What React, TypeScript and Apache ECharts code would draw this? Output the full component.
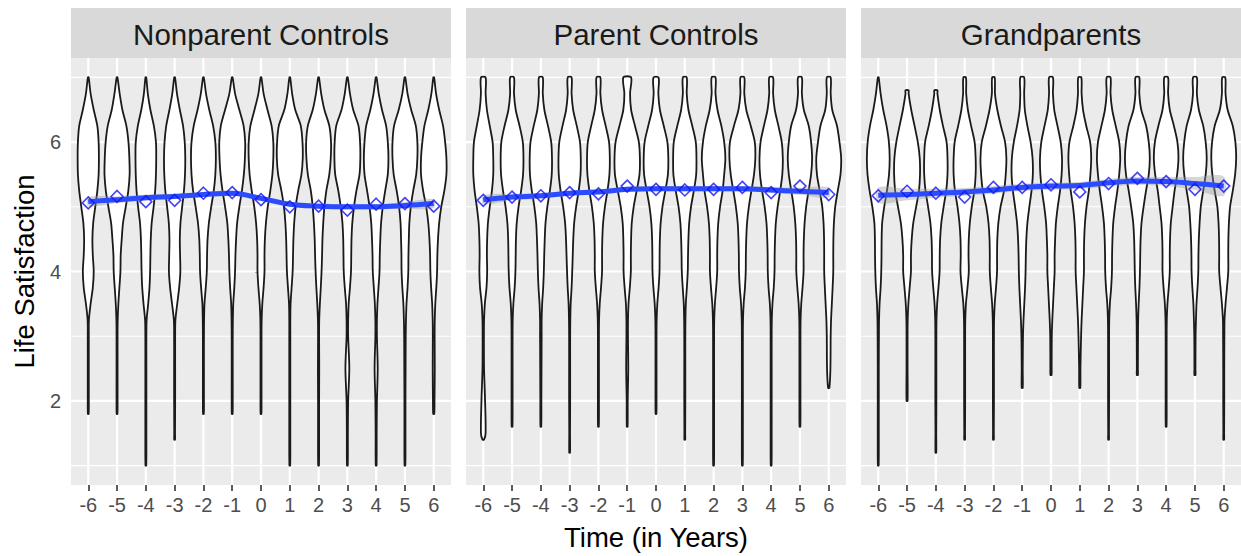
import React, { useEffect, useRef } from "react";
import * as echarts from "echarts";

// ---------- data ----------
const PANELS = ["Nonparent Controls", "Parent Controls", "Grandparents"];
const TIMES = [-6, -5, -4, -3, -2, -1, 0, 1, 2, 3, 4, 5, 6];
const Y_TICKS = [2, 4, 6];
const Y_MINOR = [1, 3, 5, 7];
// density levels (life satisfaction values) at which the violin half-widths are read
const LEVELS = [7, 6.75, 6.5, 6.25, 6, 5.75, 5.5, 5.25, 5, 4.75, 4.5, 4.25, 4, 3.75, 3.5, 3.25, 3, 2.5, 2, 1.5, 1];

// relative half-widths (1 = widest violin) per time point, at LEVELS
const NONPARENT_WIDTHS = [
  [0.03, 0.18, 0.42, 0.7, 0.8, 0.82, 0.8, 0.7, 0.54, 0.38, 0.32, 0.35, 0.42, 0.35, 0.18, 0.05, 0.04, 0.04, 0.04, 0.03, 0.03],
  [0.03, 0.2, 0.41, 0.72, 0.88, 0.95, 0.97, 0.87, 0.67, 0.46, 0.36, 0.28, 0.26, 0.18, 0.1, 0.05, 0.04, 0.04, 0.04, 0.03, 0.03],
  [0.03, 0.15, 0.35, 0.62, 0.78, 0.8, 0.78, 0.72, 0.6, 0.45, 0.38, 0.35, 0.33, 0.28, 0.18, 0.06, 0.04, 0.04, 0.04, 0.04, 0.03],
  [0.03, 0.18, 0.4, 0.65, 0.78, 0.82, 0.8, 0.72, 0.58, 0.45, 0.4, 0.42, 0.44, 0.35, 0.2, 0.06, 0.04, 0.04, 0.04, 0.03, 0.03],
  [0.03, 0.2, 0.45, 0.75, 0.92, 0.96, 0.92, 0.8, 0.6, 0.42, 0.32, 0.28, 0.26, 0.18, 0.08, 0.05, 0.04, 0.04, 0.04, 0.03, 0.03],
  [0.03, 0.22, 0.55, 0.88, 1.0, 0.98, 0.9, 0.75, 0.55, 0.38, 0.3, 0.25, 0.22, 0.16, 0.08, 0.05, 0.04, 0.04, 0.04, 0.03, 0.03],
  [0.03, 0.2, 0.5, 0.82, 0.95, 0.95, 0.88, 0.72, 0.52, 0.38, 0.3, 0.27, 0.27, 0.2, 0.1, 0.05, 0.04, 0.04, 0.04, 0.03, 0.03],
  [0.03, 0.18, 0.42, 0.85, 0.98, 1.0, 0.9, 0.65, 0.45, 0.34, 0.28, 0.25, 0.22, 0.14, 0.06, 0.04, 0.04, 0.04, 0.04, 0.04, 0.03],
  [0.03, 0.2, 0.45, 0.83, 0.96, 0.94, 0.83, 0.6, 0.45, 0.36, 0.3, 0.27, 0.23, 0.17, 0.1, 0.05, 0.04, 0.05, 0.04, 0.04, 0.03],
  [0.03, 0.2, 0.45, 0.86, 0.98, 1.0, 0.94, 0.7, 0.51, 0.38, 0.32, 0.3, 0.28, 0.2, 0.1, 0.06, 0.06, 0.15, 0.06, 0.04, 0.03],
  [0.03, 0.2, 0.45, 0.77, 0.9, 0.95, 0.9, 0.7, 0.51, 0.38, 0.32, 0.28, 0.26, 0.18, 0.1, 0.06, 0.06, 0.12, 0.06, 0.04, 0.03],
  [0.03, 0.2, 0.48, 0.84, 0.96, 0.96, 0.87, 0.64, 0.45, 0.34, 0.3, 0.27, 0.26, 0.2, 0.12, 0.08, 0.06, 0.05, 0.04, 0.04, 0.03],
  [0.03, 0.18, 0.42, 0.72, 0.88, 0.98, 0.98, 0.82, 0.58, 0.42, 0.33, 0.28, 0.26, 0.2, 0.12, 0.08, 0.07, 0.08, 0.06, 0.04, 0.03],
];
const NONPARENT_MIN = [1.8, 1.8, 1.0, 1.4, 1.8, 1.8, 1.8, 1.0, 1.0, 1.0, 1.0, 1.0, 1.8];
const NONPARENT_MAX = [7, 7, 7, 7, 7, 7, 7, 7, 7, 7, 7, 7, 7];

const PARENT_WIDTHS = [
  [0.18, 0.18, 0.28, 0.5, 0.72, 0.77, 0.77, 0.67, 0.5, 0.36, 0.3, 0.28, 0.3, 0.25, 0.12, 0.06, 0.05, 0.06, 0.14, 0.18, 0.06],
  [0.15, 0.15, 0.28, 0.58, 0.83, 0.88, 0.85, 0.7, 0.5, 0.36, 0.3, 0.28, 0.26, 0.2, 0.1, 0.05, 0.04, 0.04, 0.04, 0.03, 0.03],
  [0.15, 0.15, 0.27, 0.55, 0.8, 0.86, 0.84, 0.7, 0.5, 0.36, 0.3, 0.26, 0.23, 0.18, 0.1, 0.06, 0.06, 0.05, 0.04, 0.03, 0.03],
  [0.15, 0.15, 0.27, 0.55, 0.8, 0.86, 0.84, 0.7, 0.5, 0.35, 0.28, 0.24, 0.2, 0.15, 0.08, 0.05, 0.04, 0.04, 0.04, 0.03, 0.03],
  [0.15, 0.15, 0.28, 0.56, 0.82, 0.88, 0.85, 0.7, 0.5, 0.36, 0.3, 0.28, 0.28, 0.2, 0.1, 0.05, 0.04, 0.04, 0.04, 0.03, 0.03],
  [0.3, 0.22, 0.3, 0.6, 0.9, 0.98, 0.95, 0.73, 0.5, 0.35, 0.3, 0.28, 0.28, 0.2, 0.1, 0.06, 0.06, 0.08, 0.04, 0.03, 0.03],
  [0.2, 0.18, 0.3, 0.6, 0.88, 0.95, 0.92, 0.72, 0.5, 0.36, 0.3, 0.28, 0.27, 0.2, 0.1, 0.05, 0.04, 0.04, 0.04, 0.03, 0.03],
  [0.15, 0.15, 0.28, 0.58, 0.85, 0.9, 0.88, 0.7, 0.48, 0.34, 0.28, 0.25, 0.23, 0.16, 0.08, 0.05, 0.04, 0.04, 0.04, 0.03, 0.03],
  [0.15, 0.15, 0.3, 0.6, 0.82, 0.91, 0.82, 0.7, 0.5, 0.36, 0.3, 0.28, 0.28, 0.2, 0.1, 0.05, 0.04, 0.04, 0.04, 0.04, 0.03],
  [0.15, 0.15, 0.3, 0.65, 0.96, 1.0, 0.9, 0.7, 0.5, 0.36, 0.3, 0.27, 0.26, 0.2, 0.1, 0.05, 0.04, 0.04, 0.04, 0.04, 0.03],
  [0.15, 0.15, 0.28, 0.56, 0.82, 0.9, 0.86, 0.7, 0.5, 0.36, 0.3, 0.27, 0.26, 0.2, 0.1, 0.05, 0.04, 0.04, 0.04, 0.04, 0.03],
  [0.15, 0.15, 0.3, 0.68, 0.86, 0.94, 0.86, 0.67, 0.48, 0.36, 0.3, 0.28, 0.28, 0.2, 0.1, 0.05, 0.04, 0.04, 0.04, 0.03, 0.03],
  [0.15, 0.15, 0.27, 0.64, 0.83, 0.96, 0.91, 0.7, 0.5, 0.4, 0.36, 0.35, 0.35, 0.3, 0.24, 0.18, 0.15, 0.13, 0.05, 0.03, 0.03],
];
const PARENT_MIN = [1.4, 1.6, 1.6, 1.2, 1.6, 1.6, 1.8, 1.4, 1.0, 1.0, 1.0, 1.6, 2.2];
const PARENT_MAX = [7, 7, 7, 7, 7, 7, 7, 7, 7, 7, 7, 7, 7];

const GRAND_WIDTHS = [
  [0.03, 0.18, 0.38, 0.64, 0.82, 0.88, 0.83, 0.67, 0.46, 0.3, 0.26, 0.25, 0.23, 0.18, 0.1, 0.06, 0.05, 0.04, 0.04, 0.04, 0.03],
  [0.12, 0.12, 0.32, 0.58, 0.83, 0.98, 1.0, 0.92, 0.7, 0.48, 0.36, 0.3, 0.3, 0.2, 0.1, 0.05, 0.04, 0.04, 0.04, 0.03, 0.03],
  [0.12, 0.12, 0.3, 0.55, 0.83, 0.9, 0.9, 0.8, 0.6, 0.42, 0.33, 0.3, 0.29, 0.2, 0.1, 0.05, 0.04, 0.04, 0.04, 0.03, 0.03],
  [0.1, 0.12, 0.25, 0.5, 0.77, 0.85, 0.85, 0.75, 0.55, 0.4, 0.32, 0.3, 0.32, 0.22, 0.1, 0.05, 0.04, 0.04, 0.04, 0.03, 0.03],
  [0.1, 0.12, 0.3, 0.58, 0.9, 1.0, 0.95, 0.82, 0.55, 0.38, 0.3, 0.28, 0.28, 0.2, 0.1, 0.05, 0.04, 0.04, 0.04, 0.03, 0.03],
  [0.15, 0.15, 0.2, 0.4, 0.65, 0.8, 0.82, 0.72, 0.55, 0.4, 0.32, 0.28, 0.26, 0.22, 0.16, 0.1, 0.06, 0.04, 0.04, 0.03, 0.03],
  [0.15, 0.15, 0.25, 0.5, 0.75, 0.85, 0.82, 0.7, 0.52, 0.38, 0.32, 0.28, 0.28, 0.22, 0.16, 0.1, 0.06, 0.05, 0.04, 0.03, 0.03],
  [0.12, 0.14, 0.25, 0.5, 0.8, 0.88, 0.82, 0.7, 0.52, 0.4, 0.34, 0.32, 0.32, 0.26, 0.2, 0.14, 0.1, 0.05, 0.04, 0.03, 0.03],
  [0.15, 0.15, 0.28, 0.55, 0.82, 0.9, 0.82, 0.68, 0.5, 0.36, 0.3, 0.27, 0.26, 0.2, 0.1, 0.05, 0.04, 0.04, 0.04, 0.03, 0.03],
  [0.15, 0.15, 0.3, 0.68, 0.88, 0.96, 0.88, 0.67, 0.48, 0.32, 0.25, 0.22, 0.2, 0.16, 0.1, 0.06, 0.05, 0.04, 0.04, 0.03, 0.03],
  [0.15, 0.15, 0.28, 0.6, 0.87, 0.95, 0.85, 0.65, 0.5, 0.36, 0.3, 0.28, 0.28, 0.2, 0.1, 0.05, 0.04, 0.04, 0.04, 0.03, 0.03],
  [0.15, 0.15, 0.3, 0.64, 0.83, 0.91, 0.83, 0.64, 0.45, 0.36, 0.3, 0.27, 0.26, 0.2, 0.12, 0.08, 0.05, 0.04, 0.04, 0.03, 0.03],
  [0.12, 0.14, 0.3, 0.7, 0.9, 0.96, 0.88, 0.7, 0.49, 0.4, 0.36, 0.35, 0.35, 0.25, 0.14, 0.06, 0.05, 0.04, 0.04, 0.03, 0.03],
];
const GRAND_MIN = [1.0, 2.0, 1.2, 1.4, 1.4, 2.2, 2.4, 2.2, 1.4, 2.4, 1.6, 2.4, 1.4];
const GRAND_MAX = [7, 6.8, 6.8, 7, 7, 7, 7, 7, 7, 7, 7, 7, 7];

// yearly means (diamonds)
const NONPARENT_MEANS = [5.06, 5.16, 5.08, 5.1, 5.21, 5.22, 5.11, 5.0, 5.01, 4.95, 5.04, 5.05, 5.01];
const PARENT_MEANS = [5.1, 5.15, 5.17, 5.22, 5.2, 5.32, 5.27, 5.26, 5.27, 5.3, 5.22, 5.32, 5.19];
const GRAND_MEANS = [5.17, 5.24, 5.21, 5.15, 5.3, 5.3, 5.34, 5.23, 5.36, 5.44, 5.39, 5.27, 5.32];

// loess fit and its confidence half-width
const NONPARENT_SMOOTH = [5.08, 5.11, 5.14, 5.16, 5.19, 5.21, 5.13, 5.04, 5.01, 5.0, 5.0, 5.02, 5.05];
const PARENT_SMOOTH = [5.11, 5.15, 5.17, 5.21, 5.23, 5.27, 5.28, 5.28, 5.28, 5.28, 5.26, 5.24, 5.22];
const GRAND_SMOOTH = [5.18, 5.19, 5.21, 5.23, 5.26, 5.3, 5.32, 5.33, 5.37, 5.4, 5.39, 5.36, 5.32];
const NONPARENT_BAND = [0.07, 0.05, 0.045, 0.04, 0.04, 0.04, 0.04, 0.04, 0.04, 0.04, 0.04, 0.05, 0.07];
const PARENT_BAND = [0.07, 0.05, 0.045, 0.04, 0.04, 0.04, 0.04, 0.04, 0.04, 0.04, 0.045, 0.055, 0.08];
const GRAND_BAND = [0.12, 0.09, 0.07, 0.06, 0.06, 0.055, 0.055, 0.055, 0.06, 0.06, 0.07, 0.1, 0.15];

// ---------- layout / style ----------
const FONT = "'Liberation Sans', Arial, Helvetica, sans-serif";
const GRID_LEFTS = [71, 466, 861];
const GRID_TOP = 58;
const GRID_W = 380;
const GRID_H = 427;
const STRIP_TOP = 8;
const X_MIN = -6.6;
const X_MAX = 6.6;
const Y_MIN = 0.7;
const Y_MAX = 7.3;
const HALF = 0.45;

const PANEL_DATA = [
  { widths: NONPARENT_WIDTHS, mins: NONPARENT_MIN, maxs: NONPARENT_MAX, means: NONPARENT_MEANS, smooth: NONPARENT_SMOOTH, band: NONPARENT_BAND },
  { widths: PARENT_WIDTHS, mins: PARENT_MIN, maxs: PARENT_MAX, means: PARENT_MEANS, smooth: PARENT_SMOOTH, band: PARENT_BAND },
  { widths: GRAND_WIDTHS, mins: GRAND_MIN, maxs: GRAND_MAX, means: GRAND_MEANS, smooth: GRAND_SMOOTH, band: GRAND_BAND },
];

function buildOption() {
  const grid: any[] = [];
  const xAxis: any[] = [];
  const yAxis: any[] = [];
  const series: any[] = [];
  const graphic: any[] = [];

  PANEL_DATA.forEach((pd, i) => {
    grid.push({
      left: GRID_LEFTS[i],
      top: GRID_TOP,
      width: GRID_W,
      height: GRID_H,
      show: true,
      backgroundColor: "#EBEBEB",
      borderWidth: 0,
      containLabel: false,
    });
    xAxis.push({
      gridIndex: i,
      type: "value",
      min: X_MIN,
      max: X_MAX,
      axisLine: { show: false },
      axisTick: { show: true, customValues: TIMES, length: 6, lineStyle: { color: "#333333", width: 1.6 } },
      axisLabel: { show: true, customValues: TIMES, color: "#4D4D4D", fontSize: 20, fontFamily: FONT, margin: 10 },
      splitLine: { show: false },
    });
    yAxis.push({
      gridIndex: i,
      type: "value",
      min: Y_MIN,
      max: Y_MAX,
      axisLine: { show: false },
      axisTick: { show: i === 0, customValues: Y_TICKS, length: 6, lineStyle: { color: "#333333", width: 1.6 } },
      axisLabel: { show: i === 0, customValues: Y_TICKS, color: "#4D4D4D", fontSize: 20, fontFamily: FONT, margin: 10 },
      splitLine: { show: false },
    });

    // grid lines
    const gridItems: number[][] = [];
    Y_MINOR.forEach((v) => gridItems.push([1, v]));
    Y_TICKS.forEach((v) => gridItems.push([0, v]));
    TIMES.forEach((t) => gridItems.push([2, t]));
    series.push({
      type: "custom",
      xAxisIndex: i,
      yAxisIndex: i,
      z: 1,
      silent: true,
      data: gridItems,
      renderItem: (params: any, api: any) => {
        const kind = api.value(0);
        const v = api.value(1);
        let p1, p2;
        if (kind === 2) {
          p1 = api.coord([v, Y_MIN]);
          p2 = api.coord([v, Y_MAX]);
        } else {
          p1 = api.coord([X_MIN, v]);
          p2 = api.coord([X_MAX, v]);
        }
        return {
          type: "line",
          shape: { x1: p1[0], y1: p1[1], x2: p2[0], y2: p2[1] },
          style: { stroke: "#FFFFFF", lineWidth: kind === 1 ? 1.1 : 2.2 },
        };
      },
    });

    // violins
    series.push({
      type: "custom",
      xAxisIndex: i,
      yAxisIndex: i,
      z: 2,
      silent: true,
      data: TIMES.map((t, j) => [t, j]),
      renderItem: (params: any, api: any) => {
        const t = api.value(0);
        const j = api.value(1);
        const w = pd.widths[j];
        const vmin = pd.mins[j];
        const vmax = pd.maxs[j];
        const prof: number[][] = [[vmax, w[0]]];
        let bottomW = 0.03;
        for (let k = 1; k < LEVELS.length; k++) {
          const L = LEVELS[k];
          if (L >= vmax) continue;
          if (L > vmin + 1e-9) prof.push([L, w[k]]);
          else {
            bottomW = w[k];
            break;
          }
        }
        prof.push([vmin, bottomW]);
        const right = prof.map(([v, h]) => api.coord([t + h * HALF, v]));
        const left = prof
          .slice()
          .reverse()
          .map(([v, h]) => api.coord([t - h * HALF, v]));
        return {
          type: "polygon",
          shape: { points: right.concat(left), smooth: 0.3 },
          style: { fill: "#FFFFFF", stroke: "#1A1A1A", lineWidth: 1.8 },
        };
      },
    });

    // confidence band
    series.push({
      type: "custom",
      xAxisIndex: i,
      yAxisIndex: i,
      z: 3,
      silent: true,
      data: [[0, pd.smooth[6]]],
      renderItem: (params: any, api: any) => {
        const upper = TIMES.map((t, j) => api.coord([t, pd.smooth[j] + pd.band[j]]));
        const lower = TIMES.map((t, j) => api.coord([t, pd.smooth[j] - pd.band[j]])).reverse();
        return {
          type: "polygon",
          shape: { points: upper.concat(lower), smooth: 0.3 },
          style: { fill: "rgba(153,153,153,0.4)", stroke: "none" },
        };
      },
    });

    // smooth line
    series.push({
      type: "line",
      xAxisIndex: i,
      yAxisIndex: i,
      z: 4,
      silent: true,
      smooth: 0.4,
      showSymbol: false,
      symbol: "none",
      data: TIMES.map((t, j) => [t, pd.smooth[j]]),
      lineStyle: { color: "#2B4BFF", width: 5 },
    });

    // means
    series.push({
      type: "scatter",
      xAxisIndex: i,
      yAxisIndex: i,
      z: 5,
      silent: true,
      symbol: "diamond",
      symbolSize: 12,
      data: TIMES.map((t, j) => [t, pd.means[j]]),
      itemStyle: { color: "rgba(0,0,0,0)", borderColor: "#1414F0", borderWidth: 1.6 },
    });

    // strip
    graphic.push({
      type: "rect",
      shape: { x: GRID_LEFTS[i], y: STRIP_TOP, width: GRID_W, height: GRID_TOP - STRIP_TOP },
      style: { fill: "#D9D9D9" },
      silent: true,
    });
    graphic.push({
      type: "text",
      x: GRID_LEFTS[i] + GRID_W / 2,
      y: (STRIP_TOP + GRID_TOP) / 2 + 1,
      silent: true,
      style: {
        text: PANELS[i],
        fontSize: 29.5,
        fontFamily: FONT,
        fill: "#1A1A1A",
        align: "center",
        verticalAlign: "middle",
        textAlign: "center",
        textVerticalAlign: "middle",
      },
    });
  });

  graphic.push({
    type: "text",
    x: (GRID_LEFTS[0] + GRID_LEFTS[2] + GRID_W) / 2,
    y: 537,
    silent: true,
    style: {
      text: "Time (in Years)",
      fontSize: 27.5,
      fontFamily: FONT,
      fill: "#000000",
      align: "center",
      verticalAlign: "middle",
      textAlign: "center",
      textVerticalAlign: "middle",
    },
  });
  graphic.push({
    type: "text",
    x: 24,
    y: GRID_TOP + GRID_H / 2,
    rotation: Math.PI / 2,
    silent: true,
    style: {
      text: "Life Satisfaction",
      fontSize: 27.5,
      fontFamily: FONT,
      fill: "#000000",
      align: "center",
      verticalAlign: "middle",
      textAlign: "center",
      textVerticalAlign: "middle",
    },
  });

  return {
    animation: false,
    backgroundColor: "#FFFFFF",
    grid,
    xAxis,
    yAxis,
    series,
    graphic,
  };
}

export default function App() {
  const ref = useRef<HTMLDivElement>(null);
  useEffect(() => {
    if (!ref.current) return;
    const chart = echarts.init(ref.current, undefined, { renderer: "svg" });
    chart.setOption(buildOption() as any);
    return () => chart.dispose();
  }, []);
  return (
    <div
      ref={ref}
      style={{ position: "fixed", left: 0, top: 0, width: 1241, height: 556, background: "#FFFFFF" }}
    />
  );
}
